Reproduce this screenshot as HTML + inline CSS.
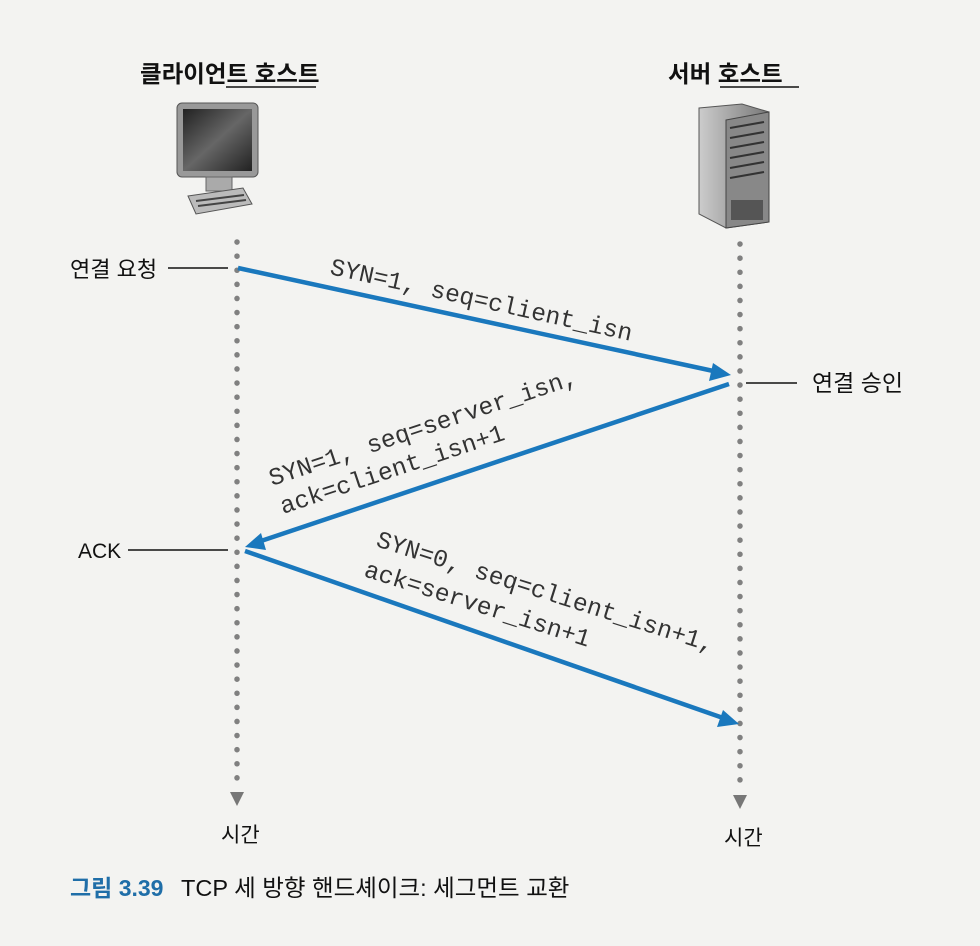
<!DOCTYPE html>
<html><head><meta charset="utf-8"><style>
html,body{margin:0;padding:0;background:#f3f3f1;}
svg{display:block}
.k{font-family:"Liberation Sans","Noto Sans CJK KR",sans-serif;}
.m{font-family:"Liberation Mono",monospace;font-size:24.5px;fill:#333;}
</style></head><body>
<svg width="980" height="946" viewBox="0 0 980 946" xmlns="http://www.w3.org/2000/svg">
<defs>
<linearGradient id="scr" x1="0" y1="0" x2="1" y2="1"><stop offset="0" stop-color="#222"/><stop offset="0.5" stop-color="#666"/><stop offset="1" stop-color="#222"/></linearGradient>
<linearGradient id="srv" x1="0" y1="0" x2="1" y2="0"><stop offset="0" stop-color="#ccc"/><stop offset="1" stop-color="#777"/></linearGradient>
</defs>
<text x="140" y="82" class="k" font-size="23.5" font-weight="bold" fill="#111">클라이언트 호스트</text>
<line x1="226" y1="87" x2="316" y2="87" stroke="#111" stroke-width="1.5"/>
<text x="668" y="82" class="k" font-size="23.5" font-weight="bold" fill="#111">서버 호스트</text>
<line x1="720" y1="87" x2="799" y2="87" stroke="#111" stroke-width="1.5"/>
<rect x="177" y="103" width="81" height="74" rx="5" fill="#999" stroke="#555"/>
<rect x="183" y="109" width="69" height="62" fill="url(#scr)"/>
<rect x="206" y="177" width="26" height="14" fill="#aaa" stroke="#666"/>
<polygon points="188,196 243,188 252,204 196,214" fill="#bbb" stroke="#555"/>
<line x1="196" y1="201" x2="244" y2="195" stroke="#444" stroke-width="2"/>
<line x1="198" y1="206" x2="246" y2="200" stroke="#444" stroke-width="2"/>
<polygon points="699,108 742,104 769,112 769,222 726,228 699,214" fill="url(#srv)" stroke="#555"/>
<polygon points="726,120 769,112 769,222 726,228" fill="#888" stroke="#444"/>
<g stroke="#333" stroke-width="2">
<line x1="730" y1="128" x2="764" y2="122"/><line x1="730" y1="138" x2="764" y2="132"/>
<line x1="730" y1="148" x2="764" y2="142"/><line x1="730" y1="158" x2="764" y2="152"/>
<line x1="730" y1="168" x2="764" y2="162"/><line x1="730" y1="178" x2="764" y2="172"/>
</g>
<rect x="731" y="200" width="32" height="20" fill="#555"/>
<line x1="237" y1="242" x2="237" y2="788" stroke="#808080" stroke-width="5.5" stroke-dasharray="0.1 14" stroke-linecap="round"/>
<polygon points="230,792 244,792 237,806" fill="#777"/>
<line x1="740" y1="244" x2="740" y2="792" stroke="#808080" stroke-width="5.5" stroke-dasharray="0.1 14" stroke-linecap="round"/>
<polygon points="733,795 747,795 740,809" fill="#777"/>
<g stroke="#1a78bd" stroke-width="4.5" fill="#1a78bd">
<line x1="238" y1="268" x2="718" y2="372"/>
<polygon points="731,375 713,363 709,381" stroke="none"/>
<line x1="729" y1="384" x2="258" y2="542"/>
<polygon points="245,547 261,533 266,550" stroke="none"/>
<line x1="245" y1="551" x2="726" y2="719"/>
<polygon points="739,724 723,710 717,727" stroke="none"/>
</g>
<text class="m" transform="translate(329,274) rotate(12.5)">SYN=1, seq=client_isn</text>
<text class="m" transform="translate(272,486) rotate(-18.5)">SYN=1, seq=server_isn,</text>
<text class="m" transform="translate(283,514) rotate(-18.5)">ack=client_isn+1</text>
<text class="m" transform="translate(375,546) rotate(17.5)">SYN=0, seq=client_isn+1,</text>
<text class="m" transform="translate(363,576) rotate(17.5)">ack=server_isn+1</text>
<text x="70" y="277" class="k" font-size="22" fill="#111">연결 요청</text>
<line x1="168" y1="268" x2="228" y2="268" stroke="#111" stroke-width="1.5"/>
<text x="812" y="391" class="k" font-size="23" fill="#111">연결 승인</text>
<line x1="746" y1="383" x2="797" y2="383" stroke="#111" stroke-width="1.5"/>
<text x="78" y="558" class="k" font-size="21" fill="#111">ACK</text>
<line x1="128" y1="550" x2="228" y2="550" stroke="#111" stroke-width="1.5"/>
<text x="221" y="842" class="k" font-size="21" fill="#111">시간</text>
<text x="724" y="845" class="k" font-size="21" fill="#111">시간</text>
<text x="70" y="896" class="k" font-size="23" font-weight="bold" fill="#1f6ea8">그림 3.39</text>
<text x="181" y="896" class="k" font-size="23.5" fill="#111">TCP 세 방향 핸드셰이크: 세그먼트 교환</text>
</svg>
</body></html>
